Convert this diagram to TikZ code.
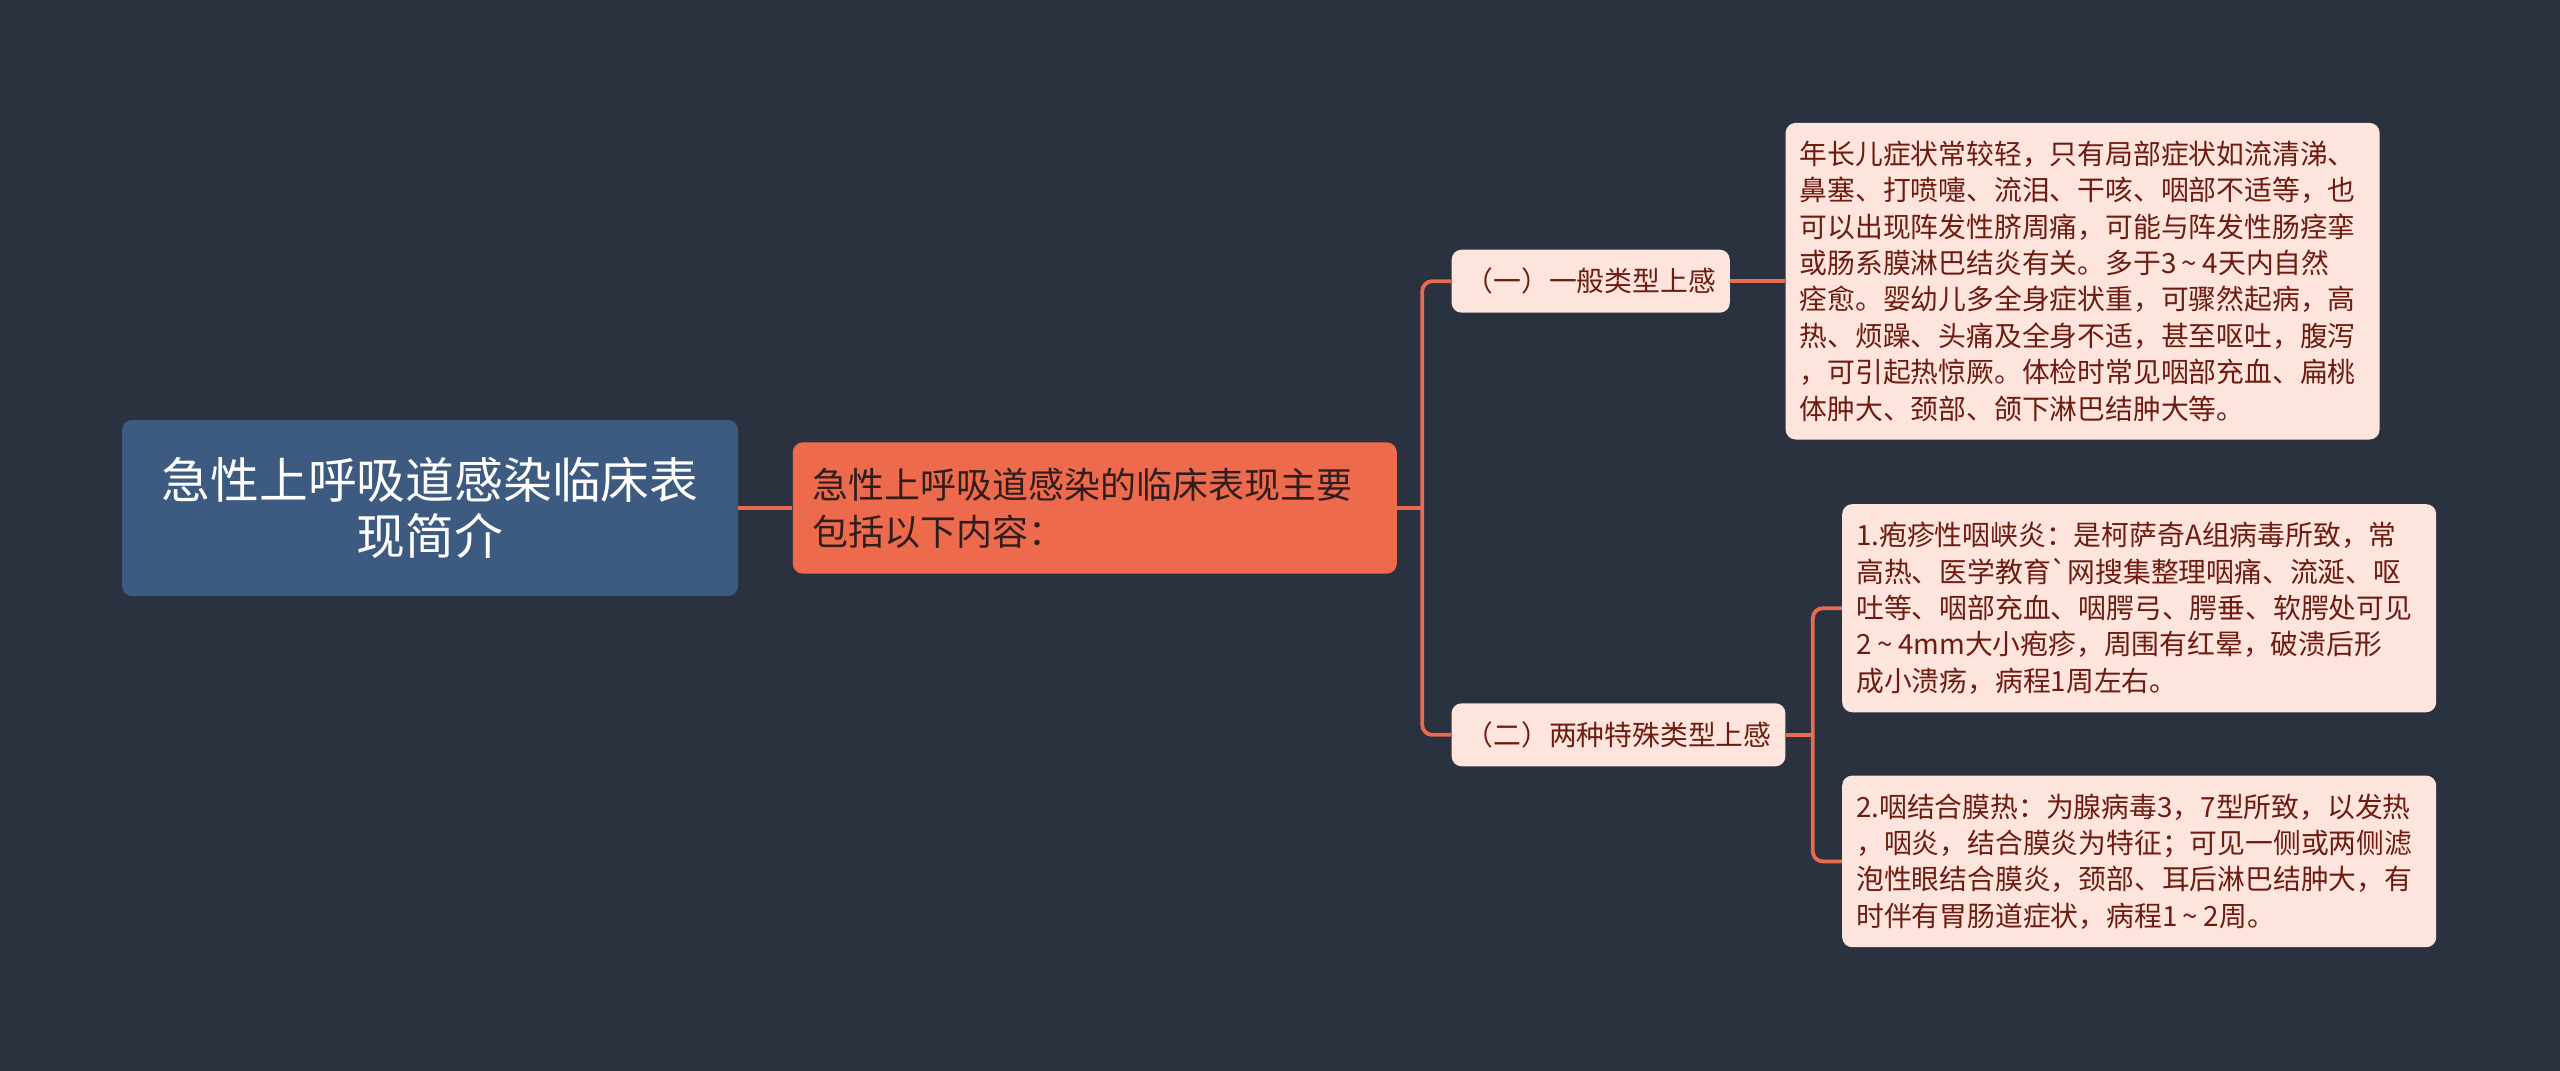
\documentclass[tikz,border=0pt]{standalone}
\usepackage{fontspec}
\setmainfont{Noto Sans CJK SC}
\usepackage{tikz}
\usetikzlibrary{positioning}
\definecolor{bgnavy}{RGB}{42,50,64}
\definecolor{rootblue}{RGB}{61,90,128}
\definecolor{mainred}{RGB}{238,106,76}
\definecolor{leafpink}{RGB}{253,228,221}
\definecolor{leaftext}{RGB}{110,28,16}
\definecolor{maintext}{RGB}{48,30,30}
\definecolor{linkred}{RGB}{234,106,80}
\newcommand{\rng}{\hspace{0.2em}\textasciitilde\hspace{0.2em}}
\tikzset{
  rootbox/.style = {rounded corners=5pt, fill=rootblue, text=white, align=center, minimum width=308pt, minimum height=88pt, inner sep=0pt, font=\fontsize{24.4pt}{27.8pt}\selectfont},
  mainbox/.style = {rounded corners=5pt, fill=mainred, text=maintext, align=left, text width=282pt, inner xsep=10pt, inner ysep=12.7pt, font=\fontsize{18pt}{23.5pt}\selectfont},
  subbox/.style  = {rounded corners=5pt, fill=leafpink, text=leaftext, inner xsep=7pt, minimum height=31.5pt, font=\fontsize{13.9pt}{18pt}\selectfont},
  leafbox/.style = {rounded corners=5pt, fill=leafpink, text=leaftext, align=left, text width=283pt, inner xsep=7pt, inner ysep=9pt, font=\fontsize{13.9pt}{18.2pt}\selectfont},
  link/.style    = {draw=linkred, line width=1.9pt, rounded corners=5pt},
}

\begin{document}
\begin{tikzpicture}
  \fill[bgnavy] (0,0) rectangle (1280pt,-535.5pt);
  \useasboundingbox (0,0) rectangle (1280pt,-535.5pt);
  \node[rootbox] (root) at (215pt,-254pt) {急性上呼吸道感染临床表\\现简介};
  \node[mainbox, right=27pt of root] (main) {急性上呼吸道感染的临床表现主要\\包括以下内容：};
  \node[subbox, right=27pt of main.east, yshift=113.4pt] (gen) {（一）一般类型上感};
  \node[subbox, right=27pt of main.east, yshift=-113.4pt] (spec) {（二）两种特殊类型上感};
  \node[leafbox, right=27.5pt of gen] (genleaf) {年长儿症状常较轻，只有局部症状如流清涕、\\鼻塞、打喷嚏、流泪、干咳、咽部不适等，也\\可以出现阵发性脐周痛，可能与阵发性肠痉挛\\或肠系膜淋巴结炎有关。多于3\rng 4天内自然\\痊愈。婴幼儿多全身症状重，可骤然起病，高\\热、烦躁、头痛及全身不适，甚至呕吐，腹泻\\，可引起热惊厥。体检时常见咽部充血、扁桃\\体肿大、颈部、颌下淋巴结肿大等。};
  \node[leafbox, right=28pt of spec.east, yshift=63.3pt] (herp) {1.疱疹性咽峡炎：是柯萨奇A组病毒所致，常\\高热、医学教育\textasciigrave 网搜集整理咽痛、流涎、呕\\吐等、咽部充血、咽腭弓、腭垂、软腭处可见\\2\rng 4mm大小疱疹，周围有红晕，破溃后形\\成小溃疡，病程1周左右。};
  \node[leafbox, right=28pt of spec.east, yshift=-63.3pt] (conj) {2.咽结合膜热：为腺病毒3，7型所致，以发热\\，咽炎，结合膜炎为特征；可见一侧或两侧滤\\泡性眼结合膜炎，颈部、耳后淋巴结肿大，有\\时伴有胃肠道症状，病程1\rng 2周。};
  \coordinate[right=12.5pt of main.east] (fork1);
  \coordinate[right=13.5pt of spec.east] (fork2);
  \draw[link] (root) -- (main);
  \draw[link] (main.east) -- (fork1);
  \draw[link] (gen.west) -| (fork1) |- (spec.west);
  \draw[link] (gen) -- (genleaf);
  \draw[link] (spec.east) -- (fork2);
  \draw[link] (herp.west) -| (fork2) |- (conj.west);
\end{tikzpicture}
\end{document}
